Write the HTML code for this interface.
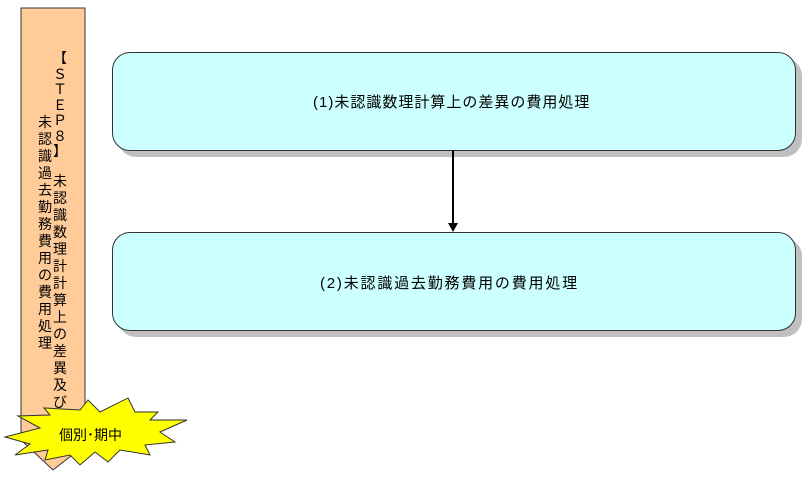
<!DOCTYPE html>
<html><head><meta charset="utf-8"><style>
body{margin:0;width:808px;height:478px;background:#fff;position:relative;overflow:hidden;font-family:"Liberation Sans","Noto Sans CJK JP",sans-serif;}
.c{position:absolute;width:18px;text-align:center;font-size:14px;line-height:16px;color:#000;}
.box{position:absolute;left:112px;width:682px;height:97px;background:#ccffff;border:1px solid #333;border-radius:18px;box-shadow:6px 6px 0 #c0c0c0;}
.t{position:absolute;font-size:15px;letter-spacing:1px;color:#000;white-space:nowrap;}
</style></head><body>
<svg width="808" height="478" style="position:absolute;left:0;top:0">
<polygon points="21,8 85,8 85,445 53,470 21,440" fill="#ffcc99" stroke="#333" stroke-width="1"/>
</svg>
<div id="cols"></div>
<div class="box" style="top:52px"></div>
<div class="box" style="top:232px"></div>
<div class="t" style="left:313px;top:91px">(1)未認識数理計算上の差異の費用処理</div>
<div class="t" style="left:320px;top:272px;letter-spacing:1.8px">(2)未認識過去勤務費用の費用処理</div>
<svg width="808" height="478" style="position:absolute;left:0;top:0">
<line x1="453" y1="150" x2="453" y2="224" stroke="#000" stroke-width="2"/>
<polygon points="448,223 458,223 453,232" fill="#000"/>
<polygon points="5,437 40,428 18,416 50,415 44,408 80,410 88,400 100,412 128,398 135,412 158,412 150,420 187,420 160,432 175,442 145,445 150,455 120,450 108,462 95,452 80,465 70,455 45,460 48,450 15,455 30,444" fill="#ffff00" stroke="#333" stroke-width="1"/>
</svg>
<div class="t" style="left:59px;top:425px;font-size:14px;letter-spacing:0">個別･期中</div>
<script>
var h='';
'【ＳＴＥＰ８】'.split('').forEach(function(ch,i){h+='<div class="c" style="left:51px;top:'+(50+i*15.5)+'px">'+ch+'</div>';});
'未認識数理計計算上の差異及び'.split('').forEach(function(ch,i){h+='<div class="c" style="left:51px;top:'+(173+i*17)+'px">'+ch+'</div>';});
'未認識過去勤務費用の費用処理'.split('').forEach(function(ch,i){h+='<div class="c" style="left:36px;top:'+(114+i*17)+'px">'+ch+'</div>';});
document.getElementById('cols').innerHTML=h;
</script>
</body></html>
